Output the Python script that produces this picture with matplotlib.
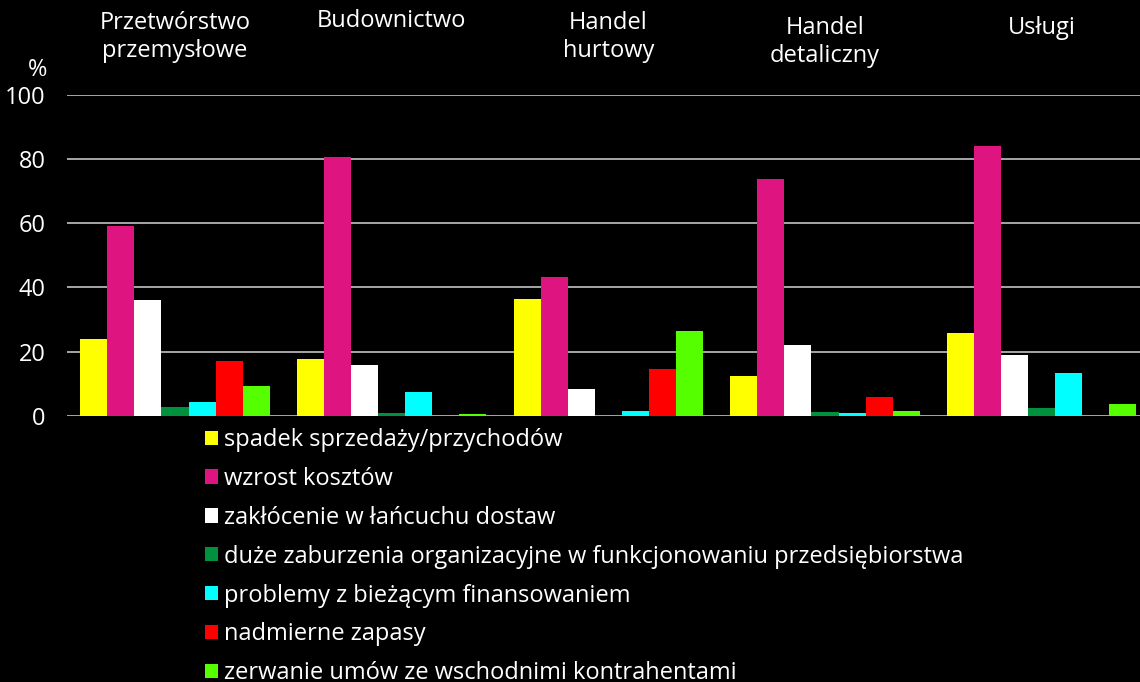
import matplotlib
matplotlib.use("Agg")
import matplotlib.pyplot as plt
import numpy as np
from matplotlib.patches import Patch

plt.rcParams['font.family'] = ['Open Sans', 'DejaVu Sans']

categories = ["Przetwórstwo\nprzemysłowe", "Budownictwo", "Handel\nhurtowy", "Handel\ndetaliczny", "Usługi"]
series_names = [
    "spadek sprzedaży/przychodów",
    "wzrost kosztów",
    "zakłócenie w łańcuchu dostaw",
    "duże zaburzenia organizacyjne w funkcjonowaniu przedsiębiorstwa",
    "problemy z bieżącym finansowaniem",
    "nadmierne zapasy",
    "zerwanie umów ze wschodnimi kontrahentami",
]
spadek = [24.0, 17.8, 36.5, 12.5, 25.8]
wzrost = [59.0, 80.6, 43.4, 73.8, 84.1]
zaklocenie = [36.0, 15.7, 8.2, 22.2, 18.9]
zaburzenia = [2.6, 0.7, 0.0, 1.0, 2.3]
finansowanie = [4.2, 7.5, 1.4, 0.7, 13.4]
zapasy = [17.0, 0.0, 14.6, 5.8, 0.0]
zerwanie = [9.4, 0.6, 26.5, 1.4, 3.8]
yticks = [0, 20, 40, 60, 80, 100]

series = [spadek, wzrost, zaklocenie, zaburzenia, finansowanie, zapasy, zerwanie]
colors = ["#FFFF00", "#DE1580", "#FFFFFF", "#00913F", "#00FFFF", "#FF0000", "#55FF00"]

W, H = 1140, 682
FS = 17
fig = plt.figure(figsize=(W / 100, H / 100), dpi=100, facecolor="black")
ax_left, ax_right = 66.7, 1150.0
ax_bottom, ax_top = 415.7, 95.0
ax = fig.add_axes([ax_left / W, 1 - ax_bottom / H, (ax_right - ax_left) / W, (ax_bottom - ax_top) / H])
ax.set_facecolor("black")

x = np.arange(len(categories))
bw = 0.125
n = len(series)
for i, (vals, c) in enumerate(zip(series, colors)):
    ax.bar(x + (i - (n - 1) / 2) * bw, vals, width=bw, color=c, zorder=3)

ax.set_xlim(-0.5, len(categories) - 0.5)
ax.set_ylim(0, 100)
ax.set_yticks(yticks)
ax.yaxis.grid(True, color="#a6a6a6", linewidth=1.4, zorder=0)
ax.set_axisbelow(True)
ax.tick_params(axis="y", length=0, colors="white", labelsize=FS, pad=15)
ax.tick_params(axis="x", length=0, labelbottom=False)
for s in ax.spines.values():
    s.set_visible(False)

label_y = [11, 9, 11, 16, 16]
for xi, cat, ly in zip(x, categories, label_y):
    fig.text((ax_left + (xi + 0.5) * (ax_right - ax_left) / len(categories)) / W, 1 - ly / H, cat,
             ha="center", va="top", color="white", fontsize=FS, linespacing=1.2)

fig.text(47 / W, 1 - 70 / H, "%", ha="right", va="center", color="white", fontsize=FS)

handles = [Patch(facecolor=c, edgecolor="none") for c in colors]
leg = fig.legend(handles, series_names, loc="upper left", bbox_to_anchor=(205 / W, 1 - 428 / H),
                 frameon=False, fontsize=FS, labelcolor="white", handlelength=0.55, handleheight=0.55,
                 handletextpad=0.25, labelspacing=0.63, borderaxespad=0, borderpad=0)

fig.savefig("out.png", dpi=100, facecolor="black")
